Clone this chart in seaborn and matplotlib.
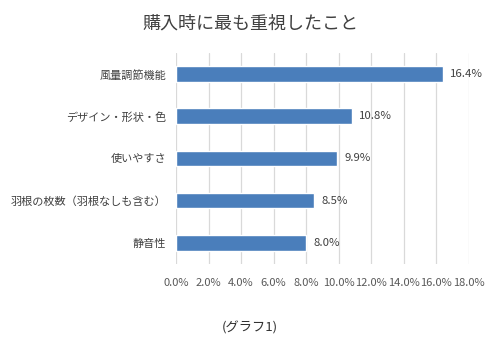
import matplotlib
matplotlib.use("Agg")
import matplotlib.pyplot as plt
import seaborn as sns
import pandas as pd
from matplotlib.ticker import FuncFormatter

categories = ["風量調節機能", "デザイン・形状・色", "使いやすさ", "羽根の枚数（羽根なしも含む）", "静音性"]
values = [16.4, 10.8, 9.9, 8.5, 8.0]
xticks = [0, 2, 4, 6, 8, 10, 12, 14, 16, 18]

sns.set_theme(style="white")
plt.rcParams["font.family"] = ["Noto Sans CJK JP", "DejaVu Sans"]

df = pd.DataFrame({"item": categories, "pct": values})

fig = plt.figure(figsize=(5.0, 3.44), dpi=100)
ax = fig.add_axes([0.352, 0.233, 0.586, 0.613])

sns.barplot(data=df, x="pct", y="item", orient="h", color="#4A7EBB",
            saturation=1, width=0.37, ax=ax, zorder=3)

ax.set_xlim(0, 18)
ax.set_ylim(4.5, -0.5)
ax.set_xticks(xticks)
ax.xaxis.set_major_formatter(FuncFormatter(lambda v, p: f"{v:.1f}%"))
ax.grid(axis="x", color="#D9D9D9", linewidth=0.9, zorder=0)
for s in ax.spines.values():
    s.set_visible(False)
ax.set_xlabel("")
ax.set_ylabel("")
ax.tick_params(axis="x", labelsize=8, colors="#595959", pad=10, length=0)
ax.tick_params(axis="y", labelsize=8.0, colors="#404040", pad=7, length=0)

for i, v in enumerate(values):
    ax.text(v + 0.45, i, f"{v:.1f}%", va="center", ha="left",
            fontsize=8.2, color="#404040")

fig.text(0.5, 0.932, "購入時に最も重視したこと", ha="center", va="center",
         fontsize=13, color="#404040")
fig.text(0.5, 0.048, "(グラフ1)", ha="center", va="center",
         fontsize=9.5, color="#303030")

fig.savefig("out.png", dpi=100, facecolor="white")
